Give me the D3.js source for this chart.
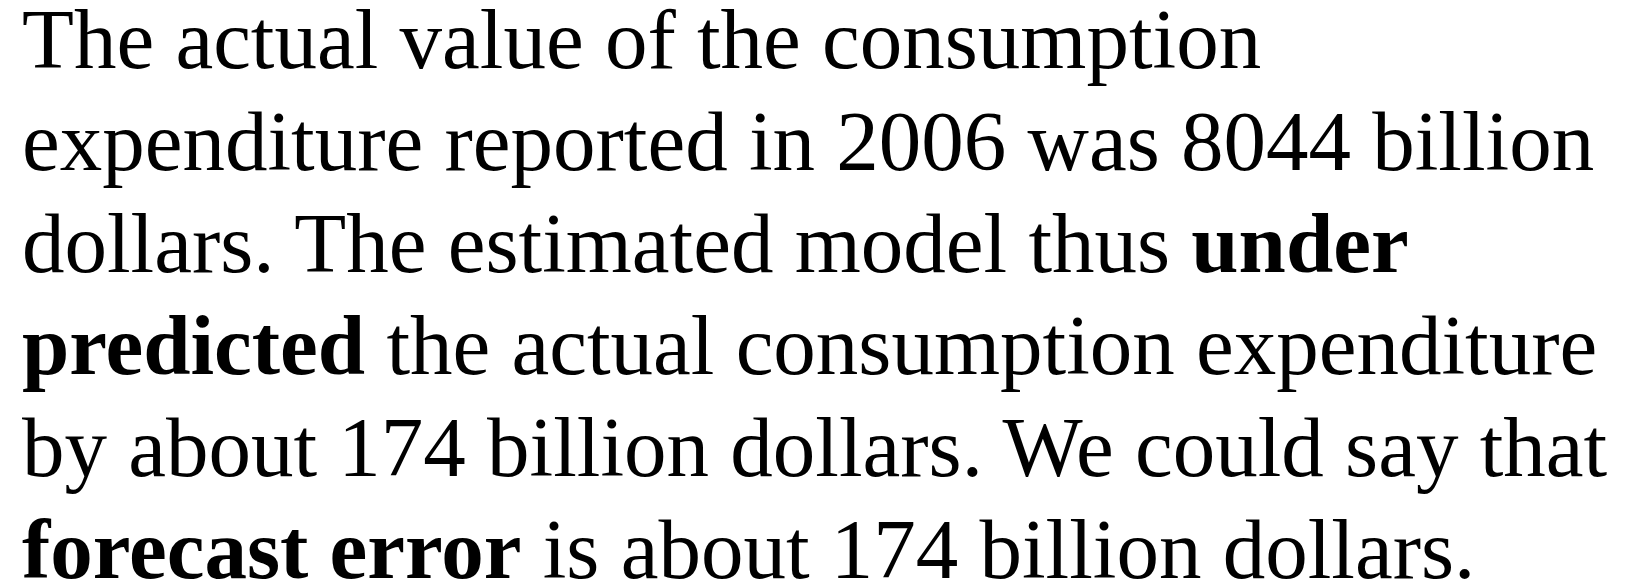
<!DOCTYPE html>
<html>
<head>
<meta charset="utf-8">
<script src="https://cdn.jsdelivr.net/npm/d3@7"></script>
<style>
  html, body { margin: 0; padding: 0; background: #fff; }
  svg { display: block; }
</style>
</head>
<body>
<svg id="chart"></svg>
<script>
// each line is a list of [text, bold?] pieces
var line1 = [["The actual value of the consumption", false]];
var line2 = [["expenditure reported in 2006 was 8044 billion", false]];
var line3 = [["dollars. The estimated model thus ", false], ["under", true]];
var line4 = [["predicted", true], [" the actual consumption expenditure", false]];
var line5 = [["by about 174 billion dollars. We could say that", false]];
var line6 = [["forecast error", true], [" is about 174 billion dollars.", false]];
var lines = [line1, line2, line3, line4, line5, line6];

var width = 1637
var height = 586
var left = 22
var fontSize = 85

var svg = d3.select('#chart')
  .attr('width', width)
  .attr('height', height);

// baseline of every line
var y = d3.scaleLinear()
  .domain([0, lines.length - 1])
  .range([68, 578]);

var rows = svg.selectAll('text.row')
  .data(lines)
  .enter()
  .append('text')
  .attr('class', 'row')
  .attr('x', left)
  .attr('y', function (d, i) { return y(i); })
  .style('font-family', '"Liberation Serif", "Times New Roman", serif')
  .style('font-size', fontSize + 'px')
  .style('fill', '#000')
  .attr('xml:space', 'preserve');

rows.selectAll('tspan')
  .data(function (d) { return d; })
  .enter()
  .append('tspan')
  .style('font-weight', function (d) { return d[1] ? 'bold' : 'normal'; })
  .text(function (d) { return d[0]; });
</script>
</body>
</html>
